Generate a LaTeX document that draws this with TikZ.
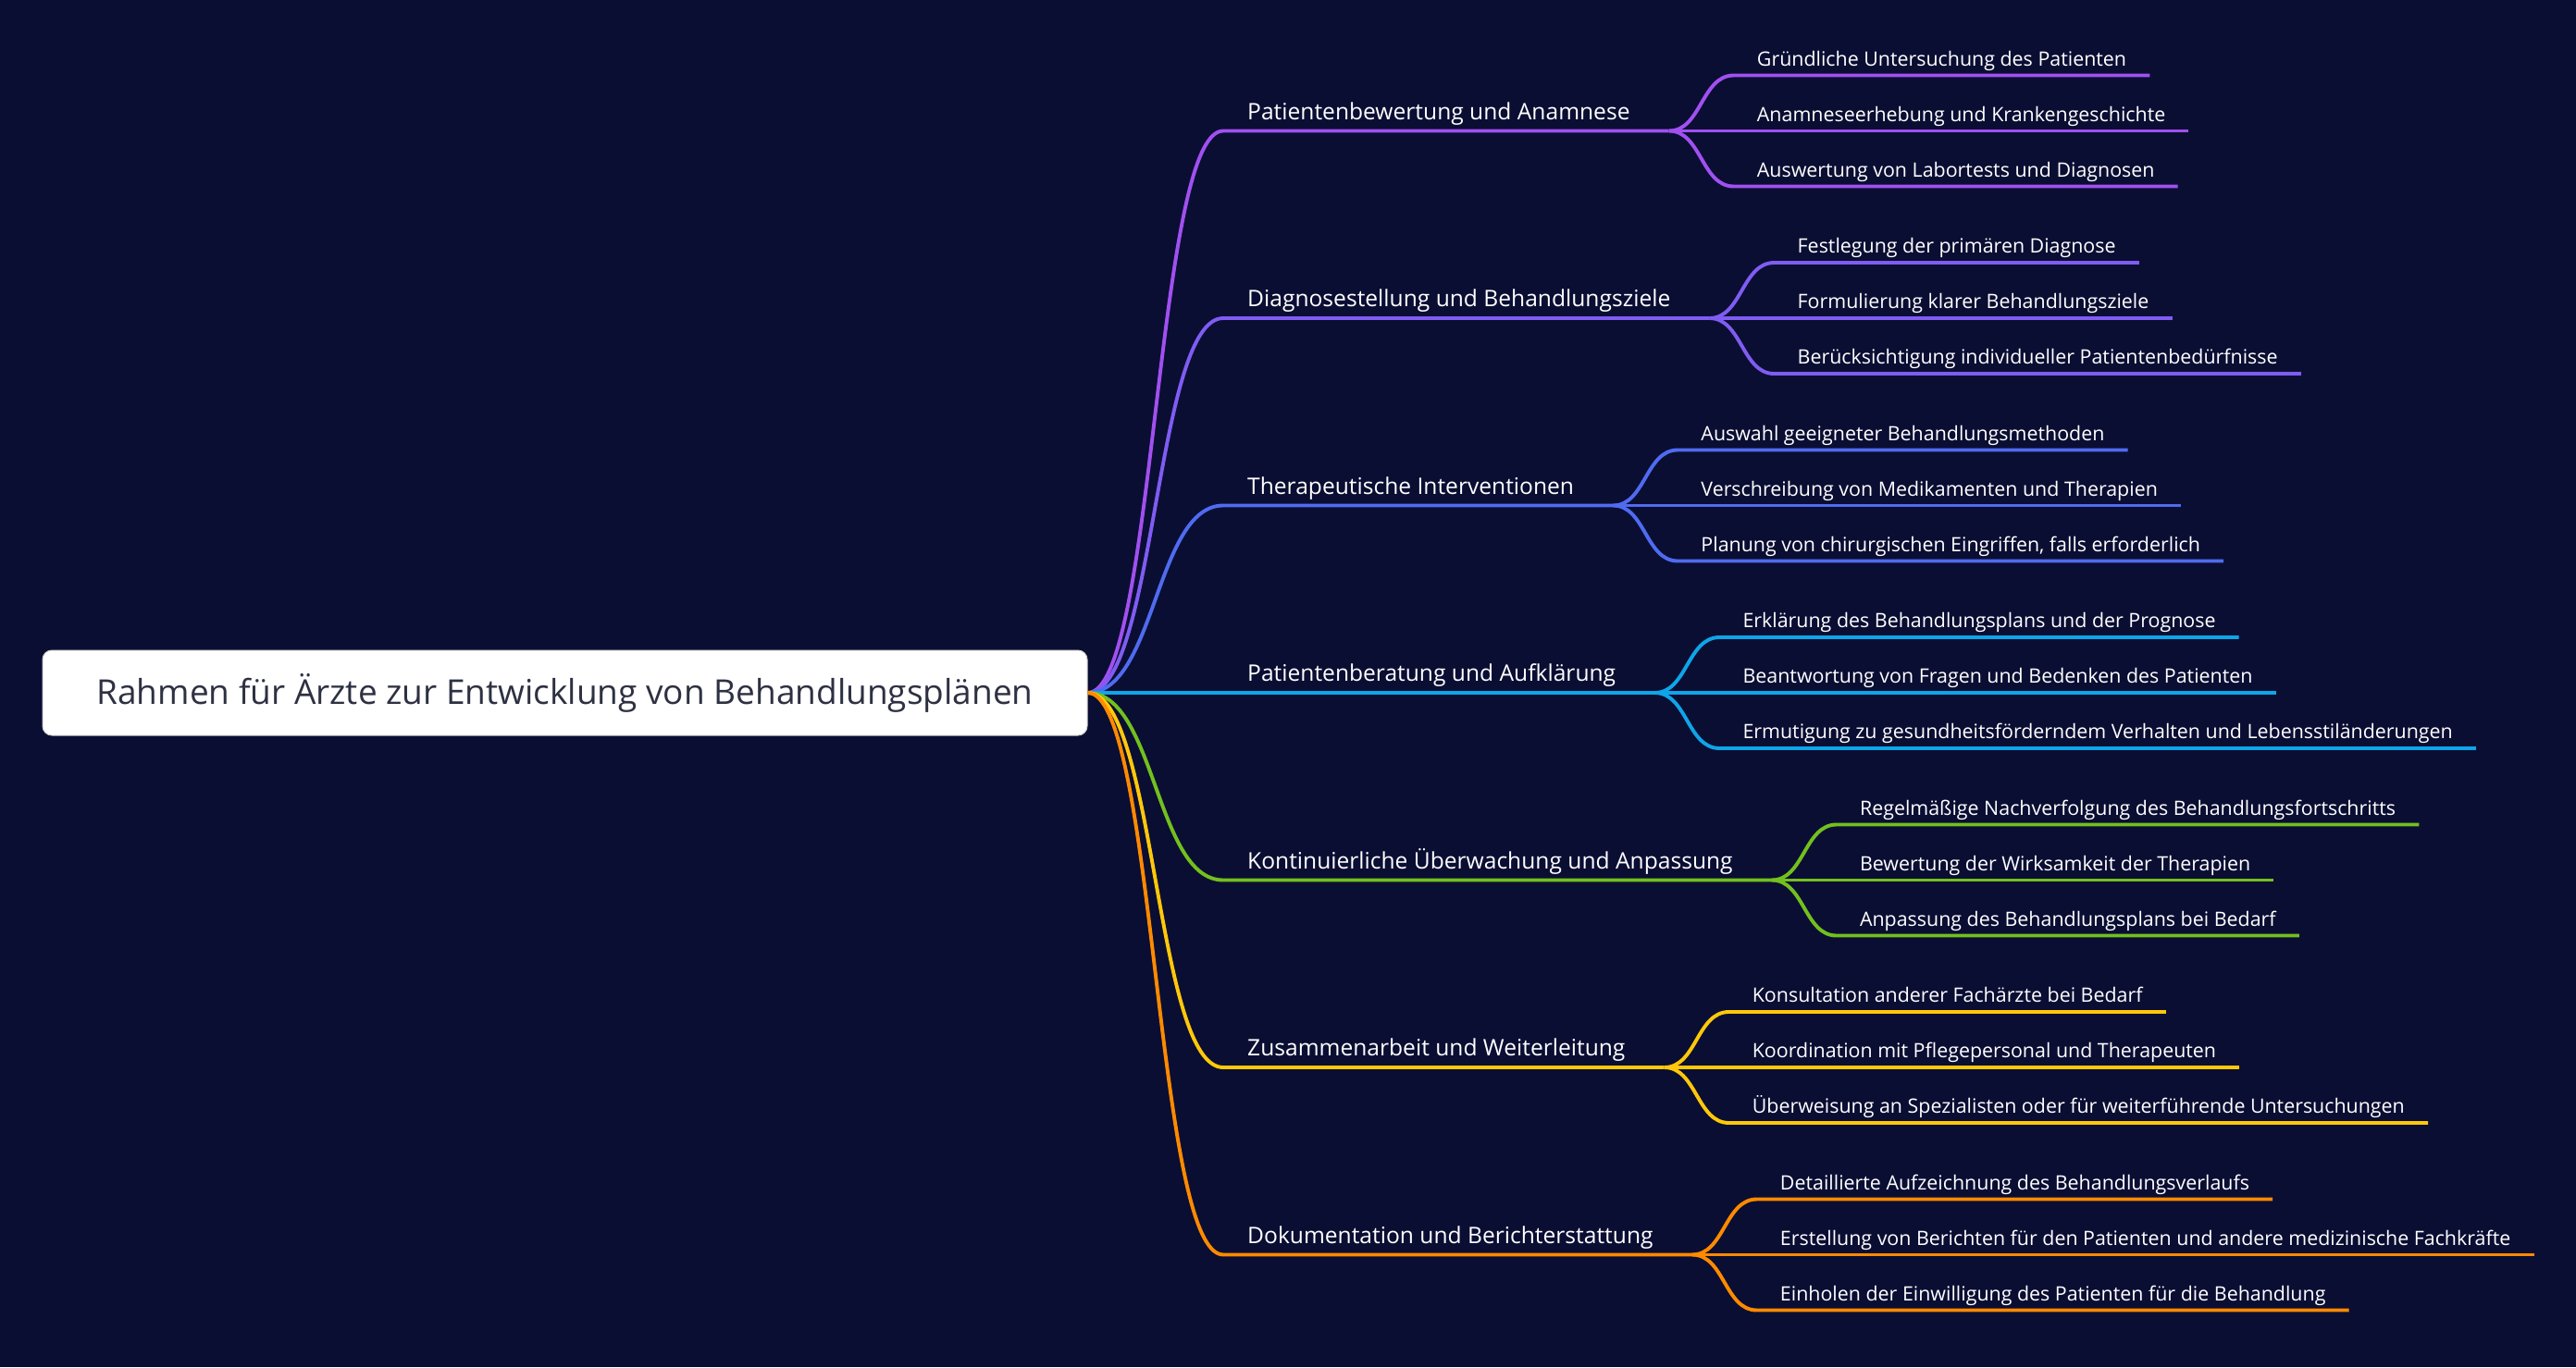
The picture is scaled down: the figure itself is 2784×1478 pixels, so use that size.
\documentclass[tikz,border=0pt]{standalone}
\usepackage{fontspec}
\setmainfont{Open Sans}
\usetikzlibrary{calc}
\definecolor{bg}{HTML}{0B0E33}
\definecolor{cA}{HTML}{A050F0}
\definecolor{cB}{HTML}{7F5CF2}
\definecolor{cC}{HTML}{4F6BF0}
\definecolor{cD}{HTML}{0EA5E9}
\definecolor{cE}{HTML}{72C01E}
\definecolor{cF}{HTML}{FFC80A}
\definecolor{cG}{HTML}{FF8A00}
\definecolor{roottext}{HTML}{2D3142}
\tikzset{
  rootbox/.style={fill=white, draw=white!80!black, line width=1pt, rounded corners=10pt,
    minimum width=1129pt, minimum height=92pt, text=roottext,
    font=\fontsize{37}{43}\selectfont},
  lone/.style={anchor=south west, text=white, inner xsep=26pt, inner ysep=12pt, text depth=0pt,
    font=\fontsize{24.6}{29}\selectfont},
  ltwo/.style={anchor=south west, text=white, inner xsep=25pt, inner ysep=10pt, text depth=0pt,
    font=\fontsize{21.4}{25}\selectfont},
  link/.style={line width=3.9pt}
}
\newcommand\mmbranch[7]{%
  \node[lone] (B#1) at (1322,#3) {#4};
  \draw[link,#2] (root.east) .. controls +(73.5,0) and +(-73.5,0) .. (B#1.south west)
     -- ($(B#1.south east)+(16,0)$) coordinate (F#1);
  \node[ltwo] (C#1a) at ($(F#1)+(70,-60)$) {#5};
  \node[ltwo] (C#1b) at ($(F#1)+(70,0)$) {#6};
  \node[ltwo] (C#1c) at ($(F#1)+(70,60)$) {#7};
  \draw[link,#2] (F#1) .. controls +(35,0) and +(-35,0) .. (C#1a.south west) -- (C#1a.south east);
  \draw[link,#2] (F#1) -- (C#1b.south west) -- (C#1b.south east);
  \draw[link,#2] (F#1) .. controls +(35,0) and +(-35,0) .. (C#1c.south west) -- (C#1c.south east);
}
\begin{document}
\begin{tikzpicture}[x=1pt,y=-1pt]
\fill[bg] (0,0) rectangle (2784,1478);
\useasboundingbox (0,0) rectangle (2784,1478);
\node[rootbox] (root) at (610.5,749) {Rahmen für Ärzte zur Entwicklung von Behandlungsplänen};
\mmbranch{1}{cA}{141.5}{Patientenbewertung und Anamnese}{Gründliche Untersuchung des Patienten}{Anamneseerhebung und Krankengeschichte}{Auswertung von Labortests und Diagnosen}
\mmbranch{2}{cB}{344}{Diagnosestellung und Behandlungsziele}{Festlegung der primären Diagnose}{Formulierung klarer Behandlungsziele}{Berücksichtigung individueller Patientenbedürfnisse}
\mmbranch{3}{cC}{546.5}{Therapeutische Interventionen}{Auswahl geeigneter Behandlungsmethoden}{Verschreibung von Medikamenten und Therapien}{Planung von chirurgischen Eingriffen, falls erforderlich}
\mmbranch{4}{cD}{749}{Patientenberatung und Aufklärung}{Erklärung des Behandlungsplans und der Prognose}{Beantwortung von Fragen und Bedenken des Patienten}{Ermutigung zu gesundheitsförderndem Verhalten und Lebensstiländerungen}
\mmbranch{5}{cE}{951.5}{Kontinuierliche Überwachung und Anpassung}{Regelmäßige Nachverfolgung des Behandlungsfortschritts}{Bewertung der Wirksamkeit der Therapien}{Anpassung des Behandlungsplans bei Bedarf}
\mmbranch{6}{cF}{1154}{Zusammenarbeit und Weiterleitung}{Konsultation anderer Fachärzte bei Bedarf}{Koordination mit Pflegepersonal und Therapeuten}{Überweisung an Spezialisten oder für weiterführende Untersuchungen}
\mmbranch{7}{cG}{1356.5}{Dokumentation und Berichterstattung}{Detaillierte Aufzeichnung des Behandlungsverlaufs}{Erstellung von Berichten für den Patienten und andere medizinische Fachkräfte}{Einholen der Einwilligung des Patienten für die Behandlung}
\end{tikzpicture}
\end{document}
